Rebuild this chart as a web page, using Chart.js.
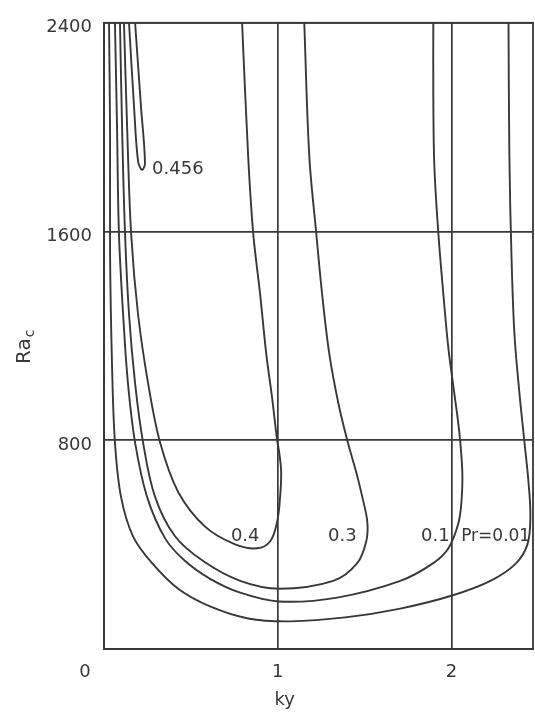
<!DOCTYPE html>
<html>
<head>
<meta charset="utf-8">
<script src="https://cdn.jsdelivr.net/npm/chart.js@4.4.1/dist/chart.umd.min.js"></script>
<style>
  html, body { margin: 0; padding: 0; background: #fff; }
  #wrap { width: 535px; height: 713px; position: relative; }
</style>
</head>
<body>
<div id="wrap"><canvas id="c"></canvas></div>
<script>
// Axis ticks
const kyTicks = [0, 1, 2];
const raTicks = [0, 800, 1600, 2400];

// Neutral-stability curves Ra_c(ky), one per Prandtl number
const prLabels = ['Pr=0.01', '0.1', '0.3', '0.4', '0.456'];

const pr001Ky = [0.029, 0.035, 0.035, 0.046, 0.063, 0.098, 0.167, 0.277, 0.427, 0.611, 0.830, 1.072, 1.389, 1.706, 2.000, 2.225, 2.369, 2.438, 2.455, 2.444, 2.421, 2.392, 2.363, 2.346, 2.334, 2.329];
const pr001Ra = [2400, 1965, 1510, 1094, 791, 583, 432, 329, 231, 163, 117, 106, 121, 155, 204, 261, 326, 401, 507, 640, 791, 980, 1208, 1510, 1889, 2400];

const pr01Ky = [0.063, 0.075, 0.086, 0.110, 0.138, 0.179, 0.248, 0.352, 0.467, 0.611, 0.784, 1.009, 1.343, 1.706, 1.896, 1.983, 2.040, 2.058, 2.063, 2.046, 2.017, 1.983, 1.954, 1.925, 1.902, 1.896, 1.896];
const pr01Ra = [2400, 2003, 1594, 1283, 1018, 791, 583, 424, 337, 269, 216, 182, 197, 261, 329, 386, 481, 564, 678, 829, 980, 1151, 1359, 1594, 1851, 2116, 2400];

const pr03Ky = [0.092, 0.104, 0.121, 0.144, 0.179, 0.225, 0.294, 0.409, 0.571, 0.784, 1.009, 1.320, 1.458, 1.510, 1.516, 1.487, 1.452, 1.401, 1.349, 1.297, 1.256, 1.222, 1.182, 1.153];
const pr03Ra = [2400, 2003, 1594, 1283, 1018, 791, 583, 432, 337, 261, 231, 261, 329, 413, 488, 583, 678, 799, 943, 1132, 1359, 1594, 1889, 2400];

const pr04Ky = [0.115, 0.133, 0.156, 0.196, 0.254, 0.323, 0.427, 0.582, 0.755, 0.882, 0.957, 0.997, 1.014, 1.020, 1.009, 0.997, 0.968, 0.934, 0.899, 0.859, 0.830, 0.795];
const pr04Ra = [2400, 2003, 1594, 1283, 1018, 791, 602, 469, 401, 386, 413, 488, 583, 678, 753, 799, 962, 1132, 1359, 1594, 1889, 2400];

const pr0456Ky = [0.144, 0.173, 0.196, 0.219, 0.236, 0.213, 0.179];
const pr0456Ra = [2400, 2078, 1870, 1836, 1862, 2078, 2400];

const curves = [
  [pr001Ky, pr001Ra],
  [pr01Ky, pr01Ra],
  [pr03Ky, pr03Ra],
  [pr04Ky, pr04Ra],
  [pr0456Ky, pr0456Ra]
];

const INK = '#383838';
const FONT = '"DejaVu Sans", sans-serif';

const datasets = curves.map(([kx, ra], i) => ({
  label: prLabels[i],
  data: kx.map((v, j) => ({ x: v, y: ra[j] })),
  showLine: true,
  borderColor: INK,
  borderWidth: 1.9,
  pointRadius: 0,
  tension: 0.35,
  fill: false
}));

// Curve annotations, anchored in data coordinates
const curveTags = [
  { text: 'Pr=0.01', x: 2.255, y: 431, align: 'center', size: 17 },
  { text: '0.1', x: 1.908, y: 431, align: 'center', size: 18 },
  { text: '0.3', x: 1.372, y: 431, align: 'center', size: 18 },
  { text: '0.4', x: 0.813, y: 431, align: 'center', size: 18 },
  { text: '0.456', x: 0.277, y: 1840, align: 'left', size: 18 }
];

const decor = {
  id: 'decor',
  afterDraw(chart) {
    const { ctx, chartArea: a, scales } = chart;
    ctx.save();
    // frame
    ctx.strokeStyle = INK;
    ctx.lineWidth = 1.8;
    ctx.strokeRect(a.left, a.top, a.right - a.left, a.bottom - a.top);

    ctx.fillStyle = INK;
    ctx.textBaseline = 'middle';
    curveTags.forEach(t => {
      ctx.font = t.size + 'px ' + FONT;
      ctx.textAlign = t.align;
      ctx.fillText(t.text, scales.x.getPixelForValue(t.x), scales.y.getPixelForValue(t.y));
    });

    // origin label
    ctx.font = '18px ' + FONT;
    ctx.textAlign = 'center';
    ctx.fillText('0', a.left - 19, a.bottom + 23);

    // x title
    ctx.fillText('ky', scales.x.getPixelForValue(1.04), a.bottom + 51);

    // y title with subscript
    ctx.translate(30, 364);
    ctx.rotate(-Math.PI / 2);
    ctx.textAlign = 'left';
    ctx.textBaseline = 'alphabetic';
    ctx.font = '20px ' + FONT;
    ctx.fillText('Ra', 0, 0);
    const w = ctx.measureText('Ra').width;
    ctx.font = '14px ' + FONT;
    ctx.fillText('c', w + 1, 4);
    ctx.restore();
  }
};

new Chart(document.getElementById('c'), {
  type: 'scatter',
  data: { datasets },
  options: {
    responsive: true,
    maintainAspectRatio: false,
    animation: false,
    layout: { padding: { top: 15, right: 2, left: 0, bottom: 0 } },
    plugins: { legend: { display: false }, tooltip: { enabled: false } },
    scales: {
      x: {
        type: 'linear',
        min: 0,
        max: 2.47,
        afterBuildTicks: s => { s.ticks = kyTicks.map(v => ({ value: v })); },
        afterFit: s => { s.height = 64; },
        grid: { color: INK, lineWidth: 1.7, drawTicks: false },
        border: { display: true, color: INK, width: 1.8 },
        ticks: {
          color: INK,
          font: { family: FONT, size: 18 },
          padding: 13,
          maxRotation: 0,
          callback: v => (v === 0 ? '' : String(v))
        }
      },
      y: {
        type: 'linear',
        min: 0,
        max: 2400,
        afterBuildTicks: s => { s.ticks = raTicks.map(v => ({ value: v })); },
        afterFit: s => { s.width = 104; },
        grid: { color: INK, lineWidth: 1.7, drawTicks: false },
        border: { display: true, color: INK, width: 1.8 },
        ticks: {
          color: INK,
          font: { family: FONT, size: 18 },
          padding: 12,
          labelOffset: 5,
          callback: v => (v === 0 ? '' : String(v))
        }
      }
    }
  },
  plugins: [decor]
});
</script>
</body>
</html>
